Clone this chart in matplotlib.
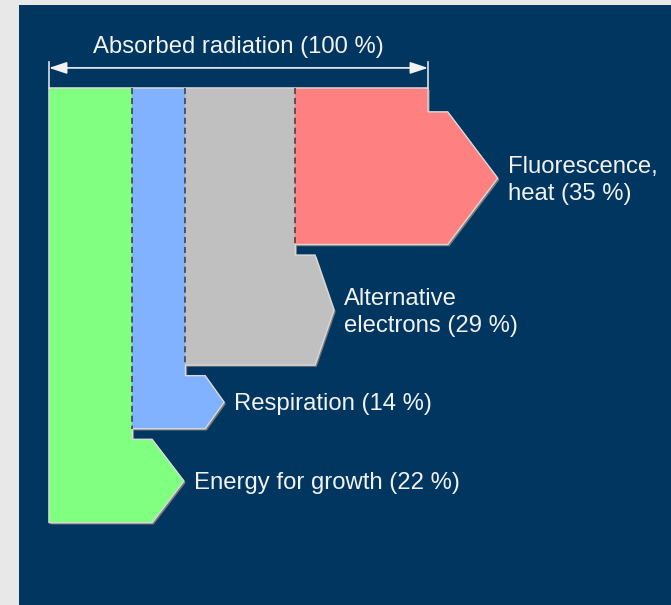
import matplotlib.pyplot as plt
import numpy as np
from matplotlib.patches import Polygon

# flows, listed left to right (as they sit in the column)
labels = ['Energy for growth (22 %)', 'Respiration (14 %)',
          'Alternative\nelectrons (29 %)', 'Fluorescence,\nheat (35 %)']
shares = [22, 14, 29, 35]
colors = ['#80ff80', '#80b2ff', '#c0c0c0', '#ff8080']
total_label = 'Absorbed radiation (100 %)'

# layout (in percent units)
px = 3.79          # pixels per percent
tips = [8.4, 5.0, 5.0, 13.2]  # arrow point length
step = 5.2
gap = 2.8
first_top = 6.3

navy = '#00365f'
plt.rcParams['font.family'] = ['Liberation Sans', 'DejaVu Sans']

fig = plt.figure(figsize=(6.71, 6.05), dpi=100, facecolor='#e8e8e8')
ax = fig.add_axes([19 / 671, 0, 652 / 671, 600 / 605])
ax.set_facecolor(navy)
ax.set_xticks([])
ax.set_yticks([])
for s in ax.spines.values():
    s.set_visible(False)
ax.set_xlim((19 - 49) / px, (671 - 49) / px)
ax.set_ylim((605 - 88) / px, (5 - 88) / px)

x1s = np.cumsum(shares)
x0s = x1s - np.array(shares)

# band tops, from the rightmost flow down
n = len(shares)
tops = [0.0] * n
y = first_top
for i in range(n - 1, -1, -1):
    tops[i] = y
    y += shares[i] + gap


def arrow_pts(i):
    x0, x1, w, t = x0s[i], x1s[i], shares[i], tops[i]
    return [(x1, t), (x1 + step, t), (x1 + step + tips[i], t + w / 2),
            (x1 + step, t + w), (x0, t + w)]


# outline of the whole shape
outline = [(0, 0), (x1s[-1], 0)]
for i in range(n - 1, -1, -1):
    outline += arrow_pts(i)

shadow = Polygon(np.array(outline) + 0.45, closed=True, facecolor='#7a7a7a',
                 edgecolor='none', zorder=1)
ax.add_patch(shadow)

for i in range(n):
    pts = [(x0s[i], 0), (x1s[i], 0)] + arrow_pts(i)
    ax.add_patch(Polygon(pts, closed=True, facecolor=colors[i],
                         edgecolor=colors[i], lw=0.6, zorder=2))
    w = shares[i]
    tip_x = x1s[i] + step + tips[i]
    ax.text(tip_x + 2.6, tops[i] + w / 2 + 0.6, labels[i], color='#f2f2f2',
            fontsize=17.2, va='center', ha='left', linespacing=1.3, zorder=5)

ax.add_patch(Polygon(outline, closed=True, facecolor='none',
                     edgecolor='#d8d8d8', lw=1.0, zorder=3))

# dashed dividers between flows
for i in range(1, n):
    ax.plot([x0s[i], x0s[i]], [0, tops[i] + shares[i]], color='#3a3a3a',
            lw=1.1, ls=(0, (4, 2.5)), zorder=4)

# total width marker
ax.plot([0, 0], [-6.9, 0], color='#e0e0e0', lw=1.2, zorder=4)
ax.plot([x1s[-1], x1s[-1]], [-6.9, 0], color='#e0e0e0', lw=1.2, zorder=4)
ax.annotate('', xy=(0, -5.3), xytext=(x1s[-1], -5.3),
            arrowprops=dict(arrowstyle='<|-|>,head_length=0.9,head_width=0.3',
                            color='#f2f2f2', lw=1.2, shrinkA=0, shrinkB=0,
                            mutation_scale=12))
ax.text(x1s[-1] / 2, -10.8, total_label, color='#f2f2f2', fontsize=17.2,
        ha='center', va='center')

fig.savefig('out.png', dpi=100, facecolor=fig.get_facecolor())
